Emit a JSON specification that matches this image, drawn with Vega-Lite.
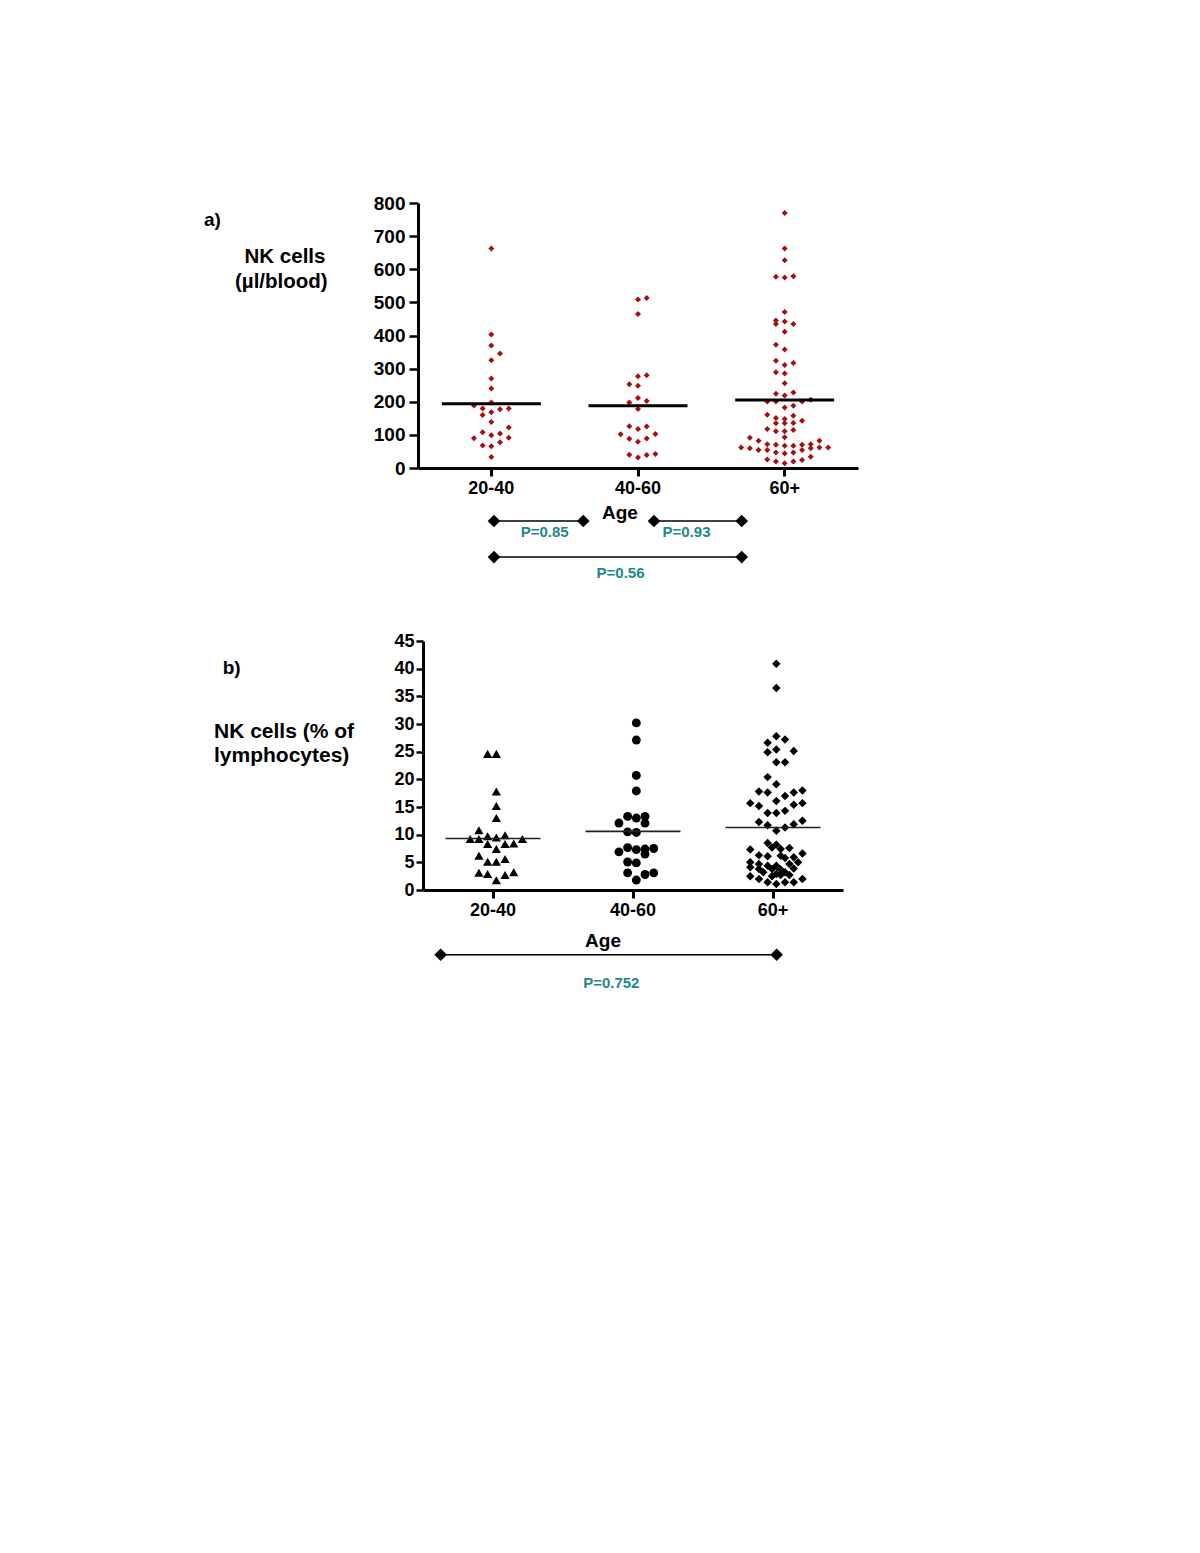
{
"$schema": "https://vega.github.io/schema/vega-lite/v6.json",
"background": "white",
"padding": {"left": 204, "top": 194, "right": 20, "bottom": 20},
"autosize": {"type": "pad"},
"config": {"view": {"stroke": null}, "font": "Liberation Sans", "axis": {"grid": false}},
"spacing": 173,
"bounds": "flush",
"datasets": {
"a": [
{"g":"20-40","v":663,"s":0},{"g":"20-40","v":403,"s":0},{"g":"20-40","v":370,"s":0},{"g":"20-40","v":346,"s":1},{"g":"20-40","v":325,"s":0},{"g":"20-40","v":270,"s":0},{"g":"20-40","v":240,"s":0},{"g":"20-40","v":198,"s":0},{"g":"20-40","v":189,"s":-2},{"g":"20-40","v":180,"s":-1},{"g":"20-40","v":177,"s":1},{"g":"20-40","v":180,"s":2},{"g":"20-40","v":160,"s":-1},{"g":"20-40","v":168,"s":0},{"g":"20-40","v":139,"s":0},{"g":"20-40","v":122,"s":2},{"g":"20-40","v":108,"s":-1},{"g":"20-40","v":104,"s":1},{"g":"20-40","v":99,"s":0},{"g":"20-40","v":90,"s":-2},{"g":"20-40","v":91,"s":2},{"g":"20-40","v":68,"s":-1},{"g":"20-40","v":66,"s":0},{"g":"20-40","v":78,"s":1},{"g":"20-40","v":33,"s":0},
{"g":"40-60","v":509,"s":0},{"g":"40-60","v":513,"s":1},{"g":"40-60","v":465,"s":0},{"g":"40-60","v":277,"s":0},{"g":"40-60","v":280,"s":1},{"g":"40-60","v":253,"s":-1},{"g":"40-60","v":248,"s":0},{"g":"40-60","v":198,"s":-1},{"g":"40-60","v":211,"s":0},{"g":"40-60","v":202,"s":1},{"g":"40-60","v":178,"s":0},{"g":"40-60","v":126,"s":-1},{"g":"40-60","v":118,"s":0},{"g":"40-60","v":125,"s":1},{"g":"40-60","v":102,"s":-2},{"g":"40-60","v":88,"s":-1},{"g":"40-60","v":79,"s":0},{"g":"40-60","v":89,"s":1},{"g":"40-60","v":103,"s":2},{"g":"40-60","v":40,"s":-1},{"g":"40-60","v":32,"s":0},{"g":"40-60","v":39,"s":1},{"g":"40-60","v":42,"s":2},
{"g":"60+","v":770,"s":0},{"g":"60+","v":663,"s":0},{"g":"60+","v":627,"s":0},{"g":"60+","v":577,"s":-1},{"g":"60+","v":575,"s":0},{"g":"60+","v":579,"s":1},{"g":"60+","v":471,"s":0},{"g":"60+","v":445,"s":-1},{"g":"60+","v":435,"s":-1},{"g":"60+","v":442,"s":0},{"g":"60+","v":435,"s":1},{"g":"60+","v":411,"s":0},{"g":"60+","v":372,"s":-1},{"g":"60+","v":358,"s":0},{"g":"60+","v":324,"s":-1},{"g":"60+","v":311,"s":0},{"g":"60+","v":317,"s":1},{"g":"60+","v":289,"s":-1},{"g":"60+","v":285,"s":0},{"g":"60+","v":256,"s":0},{"g":"60+","v":224,"s":-1},{"g":"60+","v":219,"s":0},{"g":"60+","v":228,"s":1},
{"g":"60+","v":201,"s":-2},{"g":"60+","v":201,"s":-1},{"g":"60+","v":201,"s":2},{"g":"60+","v":206,"s":3},{"g":"60+","v":183,"s":0},{"g":"60+","v":188,"s":1},
{"g":"60+","v":161,"s":-2},{"g":"60+","v":151,"s":-1},{"g":"60+","v":148,"s":0},{"g":"60+","v":158,"s":1},
{"g":"60+","v":135,"s":-1},{"g":"60+","v":135,"s":0},{"g":"60+","v":136,"s":1},{"g":"60+","v":143,"s":2},
{"g":"60+","v":118,"s":-2},{"g":"60+","v":111,"s":-1},{"g":"60+","v":111,"s":0},{"g":"60+","v":115,"s":1},
{"g":"60+","v":93,"s":0},
{"g":"60+","v":91,"s":-4},{"g":"60+","v":82,"s":-3},{"g":"60+","v":72,"s":-2},{"g":"60+","v":70,"s":-1},{"g":"60+","v":67,"s":0},{"g":"60+","v":67,"s":1},{"g":"60+","v":70,"s":2},{"g":"60+","v":72,"s":3},{"g":"60+","v":82,"s":4},
{"g":"60+","v":62,"s":-5},{"g":"60+","v":60,"s":-4},{"g":"60+","v":54,"s":-3},{"g":"60+","v":54,"s":-2},{"g":"60+","v":47,"s":-1},{"g":"60+","v":44,"s":0},{"g":"60+","v":47,"s":1},{"g":"60+","v":54,"s":2},{"g":"60+","v":60,"s":3},{"g":"60+","v":62,"s":4},{"g":"60+","v":62,"s":5},
{"g":"60+","v":26,"s":-2},{"g":"60+","v":20,"s":-1},{"g":"60+","v":14,"s":0},{"g":"60+","v":20,"s":1},{"g":"60+","v":24,"s":2},{"g":"60+","v":34,"s":3}
],
"amean": [{"g":"20-40","v":194},{"g":"40-60","v":188},{"g":"60+","v":205}],
"abr": [{"x1":1.018,"x2":1.627,"v":-160},{"x1":2.109,"x2":2.707,"v":-160},{"x1":1.018,"x2":2.707,"v":-269}],
"ap": [{"x":1.364,"v":-193,"t":"P=0.85"},{"x":2.331,"v":-193,"t":"P=0.93"},{"x":1.881,"v":-318,"t":"P=0.56"}],
"atag": [{"x":-0.959,"v":749,"t":"a)"}],
"atitle": [{"x":-0.407,"v":638,"t":"NK cells"},{"x":-0.432,"v":561,"t":"(µl/blood)"}],
"aage": [{"x":1.877,"v":-137,"t":"Age"}],
"b": [
{"g":"20-40","v":24.6,"s":-1},{"g":"20-40","v":24.6,"s":0},{"g":"20-40","v":17.8,"s":0},{"g":"20-40","v":15.2,"s":0},{"g":"20-40","v":13.0,"s":0},{"g":"20-40","v":10.8,"s":-2},{"g":"20-40","v":9.2,"s":-3},{"g":"20-40","v":9.2,"s":-2},{"g":"20-40","v":9.7,"s":-1},{"g":"20-40","v":9.5,"s":0},{"g":"20-40","v":9.9,"s":1},{"g":"20-40","v":9.2,"s":3},{"g":"20-40","v":8.3,"s":-1},{"g":"20-40","v":7.4,"s":0},{"g":"20-40","v":8.3,"s":1},{"g":"20-40","v":8.4,"s":2},{"g":"20-40","v":6.2,"s":-2},{"g":"20-40","v":5.1,"s":-1},{"g":"20-40","v":5.1,"s":0},{"g":"20-40","v":5.6,"s":1},{"g":"20-40","v":3.1,"s":-2},{"g":"20-40","v":2.9,"s":-1},{"g":"20-40","v":2.7,"s":1},{"g":"20-40","v":3.2,"s":2},{"g":"20-40","v":1.75,"s":0},
{"g":"40-60","v":30.2,"s":0},{"g":"40-60","v":27.1,"s":0},{"g":"40-60","v":20.7,"s":0},{"g":"40-60","v":17.9,"s":0},{"g":"40-60","v":13.3,"s":-1},{"g":"40-60","v":13.0,"s":0},{"g":"40-60","v":13.3,"s":1},{"g":"40-60","v":12.1,"s":-2},{"g":"40-60","v":12.1,"s":1},{"g":"40-60","v":10.5,"s":-1},{"g":"40-60","v":10.4,"s":0},{"g":"40-60","v":7.65,"s":-1},{"g":"40-60","v":7.3,"s":0},{"g":"40-60","v":7.4,"s":1},{"g":"40-60","v":7.5,"s":2},{"g":"40-60","v":6.9,"s":-2},{"g":"40-60","v":6.5,"s":1},{"g":"40-60","v":5.06,"s":-1},{"g":"40-60","v":4.9,"s":0},{"g":"40-60","v":3.1,"s":-1},{"g":"40-60","v":2.8,"s":1},{"g":"40-60","v":3.1,"s":2},{"g":"40-60","v":1.8,"s":0},
{"g":"60+","v":40.9,"s":0},{"g":"60+","v":36.5,"s":0},{"g":"60+","v":27.8,"s":0},{"g":"60+","v":26.6,"s":-1},{"g":"60+","v":27.2,"s":1},{"g":"60+","v":24.9,"s":-1},{"g":"60+","v":25.4,"s":0},{"g":"60+","v":25.1,"s":2},{"g":"60+","v":23.1,"s":0},{"g":"60+","v":23.1,"s":1},{"g":"60+","v":20.4,"s":-1},{"g":"60+","v":19.1,"s":0},{"g":"60+","v":17.8,"s":-2},{"g":"60+","v":17.6,"s":-1},{"g":"60+","v":17.6,"s":2},{"g":"60+","v":18.0,"s":3},{"g":"60+","v":17.0,"s":1},{"g":"60+","v":15.7,"s":-3},{"g":"60+","v":15.2,"s":-2},{"g":"60+","v":16.1,"s":0},{"g":"60+","v":15.4,"s":2},{"g":"60+","v":15.7,"s":3},{"g":"60+","v":13.9,"s":-1},{"g":"60+","v":13.9,"s":0},{"g":"60+","v":14.3,"s":1},{"g":"60+","v":12.3,"s":-2},{"g":"60+","v":11.7,"s":-1},{"g":"60+","v":10.7,"s":0},{"g":"60+","v":11.3,"s":1},{"g":"60+","v":11.9,"s":2},{"g":"60+","v":12.5,"s":3},
{"g":"60+","v":8.5,"s":-1},{"g":"60+","v":7.7,"s":-0.5},{"g":"60+","v":8.2,"s":0},{"g":"60+","v":7.4,"s":0.5},{"g":"60+","v":7.6,"s":1.5},{"g":"60+","v":7.3,"s":-3},{"g":"60+","v":6.3,"s":-2},{"g":"60+","v":6.1,"s":-1},{"g":"60+","v":6.2,"s":0.5},{"g":"60+","v":5.8,"s":1},{"g":"60+","v":5.9,"s":2},{"g":"60+","v":6.6,"s":3},{"g":"60+","v":5.0,"s":-3},{"g":"60+","v":4.7,"s":-2},{"g":"60+","v":4.4,"s":-1},{"g":"60+","v":4.4,"s":0},{"g":"60+","v":4.7,"s":1.5},{"g":"60+","v":5.0,"s":2.5},{"g":"60+","v":4.1,"s":-3},{"g":"60+","v":3.8,"s":-2},{"g":"60+","v":3.8,"s":-0.5},{"g":"60+","v":3.7,"s":0.5},{"g":"60+","v":3.9,"s":2},{"g":"60+","v":3.2,"s":-1.5},{"g":"60+","v":3.2,"s":1},{"g":"60+","v":2.5,"s":-3},{"g":"60+","v":2.0,"s":-2},{"g":"60+","v":2.5,"s":-0.5},{"g":"60+","v":2.9,"s":0},{"g":"60+","v":2.7,"s":0.5},{"g":"60+","v":2.7,"s":1.5},{"g":"60+","v":2.0,"s":3},{"g":"60+","v":1.4,"s":-1},{"g":"60+","v":1.1,"s":0},{"g":"60+","v":1.4,"s":1},{"g":"60+","v":1.4,"s":2}
],
"bmean": [{"g":"20-40","v":9.3},{"g":"40-60","v":10.6},{"g":"60+","v":11.3}],
"bbr": [{"x1":0.626,"x2":3.026,"v":-11.7}],
"bp": [{"x":1.845,"v":-16.8,"t":"P=0.752"}],
"btag": [{"x":-0.931,"v":40.1,"t":"b)"}],
"btitle": [{"x":-0.993,"v":28.6,"t":"NK cells (% of"},{"x":-0.993,"v":24.2,"t":"lymphocytes)"}],
"bage": [{"x":1.786,"v":-9.2,"t":"Age"}]
},
"vconcat": [
{
"width": 440, "height": 265,
"resolve": {"scale": {"x": "independent"}},
"encoding": {
  "y": {"field": "v", "type": "quantitative", "scale": {"domain": [0, 800], "nice": false},
        "axis": {"title": null, "values": [0,100,200,300,400,500,600,700,800], "labelOverlap": false, "domainWidth": 3, "domainColor": "black", "tickWidth": 2.5, "tickSize": 9, "tickColor": "black", "labelFontSize": 19, "labelFontWeight": "bold", "labelColor": "black", "labelPadding": 4}}
},
"layer": [
{"layer": [
{"data": {"name": "a"},
 "mark": {"type": "point", "shape": "diamond", "filled": true, "color": "#A50F0F", "size": 36, "opacity": 1},
 "encoding": {
  "x": {"field": "g", "type": "nominal", "scale": {"type": "band", "domain": ["20-40","40-60","60+"], "paddingInner": 0, "paddingOuter": 0},
        "axis": {"title": null, "domainWidth": 3, "domainColor": "black", "tickWidth": 3, "tickSize": 8, "tickColor": "black", "labelFontSize": 18, "labelFontWeight": "bold", "labelColor": "black", "labelPadding": 3, "labelAngle": 0, "labelOverlap": false}},
  "xOffset": {"field": "s", "type": "quantitative", "scale": {"domain": [-8.43, 8.43]}}
 }},
{"data": {"name": "amean"},
 "mark": {"type": "tick", "color": "black", "opacity": 1, "thickness": 3, "size": 99},
 "encoding": {"x": {"field": "g", "type": "nominal"}}}
]},
{"layer": [
{"data": {"name": "abr"}, "mark": {"type": "rule", "color": "black", "strokeWidth": 1.5},
 "encoding": {"x": {"field": "x1", "type": "quantitative", "scale": {"domain": [0.5, 3.5], "nice": false, "zero": false}, "axis": null}, "x2": {"field": "x2"}}},
{"data": {"name": "abr"}, "mark": {"type": "point", "shape": "diamond", "filled": true, "color": "black", "size": 160, "opacity": 1},
 "encoding": {"x": {"field": "x1", "type": "quantitative", "scale": {"domain": [0.5, 3.5], "nice": false, "zero": false}, "axis": null}}},
{"data": {"name": "abr"}, "mark": {"type": "point", "shape": "diamond", "filled": true, "color": "black", "size": 160, "opacity": 1},
 "encoding": {"x": {"field": "x2", "type": "quantitative", "scale": {"domain": [0.5, 3.5], "nice": false, "zero": false}, "axis": null}}},
{"data": {"name": "ap"}, "mark": {"type": "text", "color": "#21898A", "fontSize": 15, "fontWeight": "bold", "align": "center", "baseline": "middle"},
 "encoding": {"x": {"field": "x", "type": "quantitative", "scale": {"domain": [0.5, 3.5], "nice": false, "zero": false}, "axis": null}, "text": {"field": "t"}}},
{"data": {"name": "aage"}, "mark": {"type": "text", "color": "black", "fontSize": 19, "fontWeight": "bold", "align": "center", "baseline": "middle"},
 "encoding": {"x": {"field": "x", "type": "quantitative", "scale": {"domain": [0.5, 3.5], "nice": false, "zero": false}, "axis": null}, "text": {"field": "t"}}},
{"data": {"name": "atag"}, "mark": {"type": "text", "color": "black", "fontSize": 19, "fontWeight": "bold", "align": "left", "baseline": "middle"},
 "encoding": {"x": {"field": "x", "type": "quantitative", "scale": {"domain": [0.5, 3.5], "nice": false, "zero": false}, "axis": null}, "text": {"field": "t"}}},
{"data": {"name": "atitle"}, "mark": {"type": "text", "color": "black", "fontSize": 20.5, "fontWeight": "bold", "align": "center", "baseline": "middle"},
 "encoding": {"x": {"field": "x", "type": "quantitative", "scale": {"domain": [0.5, 3.5], "nice": false, "zero": false}, "axis": null}, "text": {"field": "t"}}}
]}
]
},
{
"width": 425, "height": 249,
"resolve": {"scale": {"x": "independent"}},
"encoding": {
  "y": {"field": "v", "type": "quantitative", "scale": {"domain": [0, 45], "nice": false},
        "axis": {"title": null, "offset": -5, "values": [0,5,10,15,20,25,30,35,40,45], "labelOverlap": false, "domainWidth": 3, "domainColor": "black", "tickWidth": 2.5, "tickSize": 7, "tickColor": "black", "labelFontSize": 18, "labelFontWeight": "bold", "labelColor": "black", "labelPadding": 2}}
},
"layer": [
{"layer": [
{"data": {"name": "b"},
 "mark": {"type": "point", "filled": true, "color": "black", "opacity": 1},
 "encoding": {
  "x": {"field": "g", "type": "nominal", "scale": {"type": "band", "domain": ["20-40","40-60","60+"], "range": [5, 425], "paddingInner": 0, "paddingOuter": 0},
        "axis": {"title": null, "domainWidth": 3, "domainColor": "black", "tickWidth": 3, "tickSize": 8, "tickColor": "black", "labelFontSize": 18, "labelFontWeight": "bold", "labelColor": "black", "labelPadding": 3, "labelAngle": 0, "labelOverlap": false}},
  "xOffset": {"field": "s", "type": "quantitative", "scale": {"domain": [-5.5, 5.5]}},
  "shape": {"field": "g", "type": "nominal", "scale": {"domain": ["20-40","40-60","60+"], "range": ["triangle-up","circle","diamond"]}, "legend": null},
  "size": {"field": "g", "type": "ordinal", "scale": {"domain": ["20-40","40-60","60+"], "range": [86, 72, 66]}, "legend": null}
 }},
{"data": {"name": "bmean"},
 "mark": {"type": "tick", "color": "#222222", "opacity": 1, "thickness": 1.6, "size": 95},
 "encoding": {"x": {"field": "g", "type": "nominal"}}}
]},
{"layer": [
{"data": {"name": "bbr"}, "mark": {"type": "rule", "color": "black", "strokeWidth": 1.5},
 "encoding": {"x": {"field": "x1", "type": "quantitative", "scale": {"domain": [0.5, 3.5], "range": [5, 425], "nice": false, "zero": false}, "axis": null}, "x2": {"field": "x2"}}},
{"data": {"name": "bbr"}, "mark": {"type": "point", "shape": "diamond", "filled": true, "color": "black", "size": 160, "opacity": 1},
 "encoding": {"x": {"field": "x1", "type": "quantitative", "scale": {"domain": [0.5, 3.5], "range": [5, 425], "nice": false, "zero": false}, "axis": null}}},
{"data": {"name": "bbr"}, "mark": {"type": "point", "shape": "diamond", "filled": true, "color": "black", "size": 160, "opacity": 1},
 "encoding": {"x": {"field": "x2", "type": "quantitative", "scale": {"domain": [0.5, 3.5], "range": [5, 425], "nice": false, "zero": false}, "axis": null}}},
{"data": {"name": "bp"}, "mark": {"type": "text", "color": "#21898A", "fontSize": 15, "fontWeight": "bold", "align": "center", "baseline": "middle"},
 "encoding": {"x": {"field": "x", "type": "quantitative", "scale": {"domain": [0.5, 3.5], "range": [5, 425], "nice": false, "zero": false}, "axis": null}, "text": {"field": "t"}}},
{"data": {"name": "bage"}, "mark": {"type": "text", "color": "black", "fontSize": 19, "fontWeight": "bold", "align": "center", "baseline": "middle"},
 "encoding": {"x": {"field": "x", "type": "quantitative", "scale": {"domain": [0.5, 3.5], "range": [5, 425], "nice": false, "zero": false}, "axis": null}, "text": {"field": "t"}}},
{"data": {"name": "btag"}, "mark": {"type": "text", "color": "black", "fontSize": 19, "fontWeight": "bold", "align": "left", "baseline": "middle"},
 "encoding": {"x": {"field": "x", "type": "quantitative", "scale": {"domain": [0.5, 3.5], "range": [5, 425], "nice": false, "zero": false}, "axis": null}, "text": {"field": "t"}}},
{"data": {"name": "btitle"}, "mark": {"type": "text", "color": "black", "fontSize": 21, "fontWeight": "bold", "align": "left", "baseline": "middle"},
 "encoding": {"x": {"field": "x", "type": "quantitative", "scale": {"domain": [0.5, 3.5], "range": [5, 425], "nice": false, "zero": false}, "axis": null}, "text": {"field": "t"}}}
]}
]
}
]
}
